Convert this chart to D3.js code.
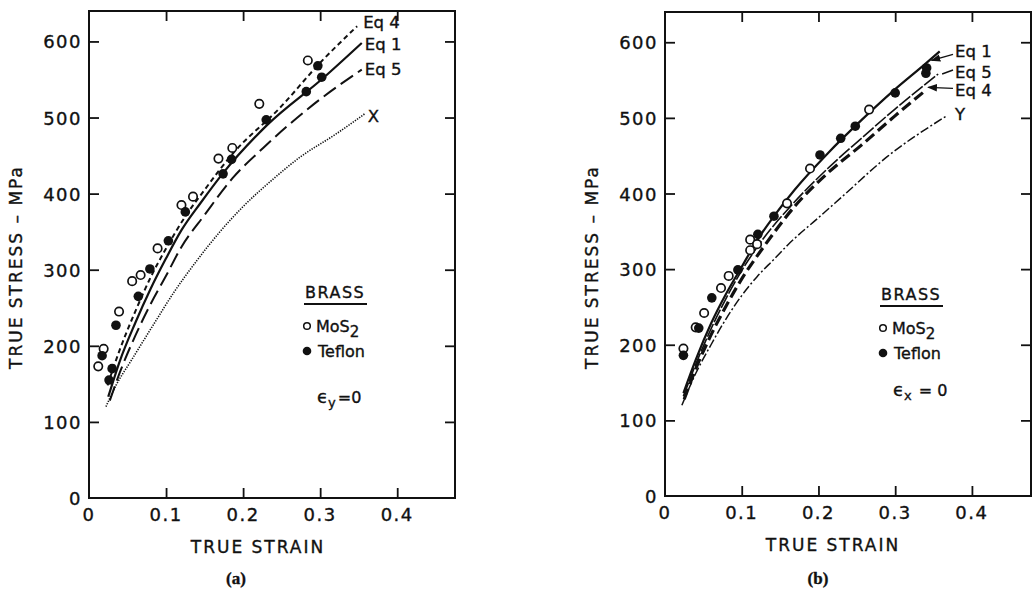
<!DOCTYPE html>
<html>
<head>
<meta charset="utf-8">
<script src="https://cdn.jsdelivr.net/npm/d3@7"></script>
<style>
body { margin: 0; background: #fff; }
svg text { font-family: "DejaVu Sans", sans-serif; fill: #111; stroke: #111; stroke-width: 0.35px; }
</style>
</head>
<body>
<svg id="chart" width="1033" height="591"></svg>
<script>
// ticks
var strainTicks = [0, 0.1, 0.2, 0.3, 0.4];
var stressTicks = [0, 100, 200, 300, 400, 500, 600];

// panel (a)  eps_y = 0
var aEq4 = [[0.024,148],[0.04,195],[0.06,245],[0.08,290],[0.1,328],[0.125,370],[0.15,405],[0.187,453],[0.248,513],[0.3,572],[0.348,620]];
var aEq1 = [[0.025,133],[0.04,180],[0.06,230],[0.08,275],[0.1,315],[0.12,352],[0.145,388],[0.174,427],[0.231,490],[0.304,552],[0.354,598]];
var aEq5 = [[0.027,128],[0.04,165],[0.06,213],[0.08,255],[0.1,292],[0.12,330],[0.15,372],[0.186,420],[0.226,460],[0.291,517],[0.354,563]];
var aX   = [[0.022,120],[0.035,148],[0.055,181],[0.085,230],[0.11,270],[0.14,312],[0.17,350],[0.2,383],[0.24,420],[0.274,448],[0.32,478],[0.358,505]];
var aMoS2 = [[0.012,173],[0.019,196],[0.039,245],[0.056,285],[0.067,293],[0.089,328],[0.120,385],[0.135,396],[0.168,446],[0.186,460],[0.221,518],[0.284,575]];
var aTeflon = [[0.017,187],[0.026,155],[0.030,170],[0.035,227],[0.064,265],[0.079,301],[0.103,338],[0.125,376],[0.174,426],[0.185,445],[0.230,497],[0.282,534],[0.297,568],[0.302,553]];

// panel (b)  eps_x = 0
var bEq1 = [[0.024,136],[0.04,180],[0.06,228],[0.08,268],[0.1,303],[0.12,338],[0.142,370],[0.169,405],[0.212,453],[0.256,497],[0.299,537],[0.340,572],[0.358,588]];
var bEq5 = [[0.024,132],[0.04,174],[0.06,221],[0.08,262],[0.1,298],[0.125,336],[0.169,389],[0.212,433],[0.256,473],[0.299,511],[0.356,558]];
var bEq4 = [[0.025,128],[0.04,168],[0.06,213],[0.08,252],[0.1,287],[0.129,330],[0.169,383],[0.212,427],[0.256,464],[0.299,502],[0.338,535]];
var bY   = [[0.022,120],[0.04,162],[0.06,200],[0.08,235],[0.1,265],[0.12,290],[0.143,314],[0.16,332],[0.2,368],[0.23,395],[0.29,449],[0.366,502]];
var bMoS2 = [[0.024,195],[0.040,223],[0.051,242],[0.073,275],[0.083,291],[0.111,325],[0.111,339],[0.120,333],[0.159,387],[0.189,433],[0.266,511]];
var bTeflon = [[0.024,186],[0.044,222],[0.061,262],[0.095,299],[0.121,346],[0.142,370],[0.202,451],[0.229,473],[0.248,489],[0.300,533],[0.340,559],[0.341,566]];

var svg = d3.select("#chart");

svg.append("defs").append("marker")
    .attr("id", "arr")
    .attr("viewBox", "0 -4 8 8")
    .attr("refX", 7).attr("refY", 0)
    .attr("markerWidth", 7).attr("markerHeight", 7)
    .attr("orient", "auto")
    .append("path").attr("d", "M0,-3L8,0L0,3Z").attr("fill", "#111");

function drawPanel(p) {
    var x = d3.scaleLinear().domain([0, p.xmax]).range([p.left, p.right]);
    var y = d3.scaleLinear().domain([0, 640]).range([p.bottom, p.top]);
    var g = svg.append("g");

    // frame
    g.append("rect")
        .attr("x", p.left).attr("y", p.top)
        .attr("width", p.right - p.left).attr("height", p.bottom - p.top)
        .attr("fill", "none").attr("stroke", "#111").attr("stroke-width", 2);

    // inward ticks on all four sides
    var tk = 10;
    var xt = strainTicks.filter(function (d) { return d > 0; });
    var yt = stressTicks.filter(function (d) { return d > 0; });
    g.append("g").call(d3.axisTop(x).tickValues(xt).tickSize(tk).tickFormat(""))
        .attr("transform", "translate(0," + p.bottom + ")");
    g.append("g").call(d3.axisBottom(x).tickValues(xt).tickSize(tk).tickFormat(""))
        .attr("transform", "translate(0," + p.top + ")");
    g.append("g").call(d3.axisRight(y).tickValues(yt).tickSize(tk).tickFormat(""))
        .attr("transform", "translate(" + p.left + ",0)");
    g.append("g").call(d3.axisLeft(y).tickValues(yt).tickSize(tk).tickFormat(""))
        .attr("transform", "translate(" + p.right + ",0)");
    g.selectAll(".domain").remove();
    g.selectAll(".tick line").attr("stroke", "#111").attr("stroke-width", 1.8);

    // tick labels
    g.selectAll(".xl").data(strainTicks).enter().append("text")
        .attr("x", function (d) { return x(d); })
        .attr("y", p.bottom + 23)
        .attr("text-anchor", "middle")
        .attr("font-size", 18).attr("letter-spacing", 1.5)
        .text(function (d) { return d === 0 ? "0" : d3.format(".1f")(d); });
    g.selectAll(".yl").data(stressTicks).enter().append("text")
        .attr("x", p.left - 7)
        .attr("y", function (d) { return y(d) + 7; })
        .attr("text-anchor", "end")
        .attr("font-size", 18).attr("letter-spacing", 1.5)
        .text(function (d) { return d; });

    // axis titles
    g.append("text")
        .attr("x", p.xTitle).attr("y", p.bottom + 55)
        .attr("text-anchor", "middle")
        .attr("font-size", 17).attr("letter-spacing", 2)
        .text("TRUE STRAIN");
    g.append("text")
        .attr("transform", "translate(" + (p.left - 67) + ",267) rotate(-90)")
        .attr("text-anchor", "middle")
        .attr("font-size", 17).attr("letter-spacing", 2)
        .text("TRUE STRESS \u2013 MPa");

    // curves
    var line = d3.line()
        .x(function (d) { return x(d[0]); })
        .y(function (d) { return y(d[1]); })
        .curve(d3.curveMonotoneX);

    p.series.forEach(function (s) {
        g.append("path")
            .attr("d", line(s.data))
            .attr("fill", "none")
            .attr("stroke", "#111")
            .attr("stroke-width", s.width)
            .attr("stroke-dasharray", s.dash);
        var last = s.data[s.data.length - 1];
        var ex = x(last[0]), ey = y(last[1]);
        var tx = p.labelX ? p.labelX : ex + s.dx;
        var ty = ey + s.dy;
        g.append("text")
            .attr("x", tx).attr("y", ty + 6)
            .attr("font-size", 16.5)
            .text(s.label);
        if (s.arrow) {
            g.append("line")
                .attr("x1", tx - 2).attr("y1", ty + s.arrow[2])
                .attr("x2", ex + s.arrow[0]).attr("y2", ey + s.arrow[1])
                .attr("stroke", "#111").attr("stroke-width", 1.4)
                .attr("marker-end", s.tip ? "url(#arr)" : null);
        }
    });

    // data points
    g.selectAll(".mo").data(p.open).enter().append("circle")
        .attr("cx", function (d) { return x(d[0]); })
        .attr("cy", function (d) { return y(d[1]); })
        .attr("r", 4.2)
        .attr("fill", "#fff").attr("stroke", "#111").attr("stroke-width", 1.7);
    g.selectAll(".tf").data(p.filled).enter().append("circle")
        .attr("cx", function (d) { return x(d[0]); })
        .attr("cy", function (d) { return y(d[1]); })
        .attr("r", 4.8)
        .attr("fill", "#111");

    // legend
    var bx = p.left + 216, by = p.legendY;
    g.append("text").attr("x", bx).attr("y", by)
        .attr("font-size", 16).attr("letter-spacing", 1.5).text("BRASS");
    g.append("line").attr("x1", bx - 1).attr("x2", bx + 62)
        .attr("y1", by + 6).attr("y2", by + 6)
        .attr("stroke", "#111").attr("stroke-width", 2);
    g.append("circle").attr("cx", bx + 2).attr("cy", by + 28).attr("r", 3.3)
        .attr("fill", "#fff").attr("stroke", "#111").attr("stroke-width", 1.5);
    var t1 = g.append("text").attr("x", bx + 11).attr("y", by + 34).attr("font-size", 16);
    t1.append("tspan").text("MoS");
    t1.append("tspan").attr("dy", 5).attr("font-size", 15).text("2");
    g.append("circle").attr("cx", bx + 2).attr("cy", by + 53).attr("r", 4.3)
        .attr("fill", "#111");
    g.append("text").attr("x", bx + 13).attr("y", by + 59).attr("font-size", 16).text("Teflon");
    var t2 = g.append("text").attr("x", bx + 12).attr("y", by + p.epsDy).attr("font-size", 18);
    t2.append("tspan").text("\u03f5");
    t2.append("tspan").attr("dy", 4).attr("font-size", 13).text(p.sub);
    t2.append("tspan").attr("dy", -4).attr("dx", 2).attr("font-size", 16).text(p.eqText);

    // panel tag
    svg.append("text")
        .attr("x", p.tagX).attr("y", 584)
        .attr("text-anchor", "middle")
        .style("font-family", "'Liberation Serif', serif")
        .attr("font-size", 17).attr("font-weight", "bold")
        .attr("stroke-width", 0)
        .text(p.tag);
}

drawPanel({
    left: 89, right: 455, top: 11, bottom: 498, xmax: 0.475,
    xTitle: 258, legendY: 298, epsDy: 105, sub: "y", eqText: "=0", tagX: 236, tag: "(a)",
    series: [
        { data: aEq4, dash: "5,3.5", width: 2, label: "Eq 4", dx: 6, dy: -4 },
        { data: aEq1, dash: null, width: 2.2, label: "Eq 1", dx: 3, dy: 1 },
        { data: aEq5, dash: "15,6", width: 2, label: "Eq 5", dx: 3, dy: -1 },
        { data: aX, dash: "1.3,1.3", width: 1.6, label: "X", dx: 3, dy: 2 }
    ],
    open: aMoS2, filled: aTeflon
});

drawPanel({
    left: 665, right: 1031, top: 12, bottom: 496, xmax: 0.477,
    xTitle: 833, legendY: 300, epsDy: 96, sub: "x", eqText: " = 0", tagX: 818, tag: "(b)",
    labelX: 955,
    series: [
        { data: bEq1, dash: null, width: 2.2, label: "Eq 1", dx: 15, dy: 0, arrow: [-8, 9, 3], tip: true },
        { data: bEq5, dash: "14,2", width: 1.6, label: "Eq 5", dx: 15, dy: -2, arrow: [4, 0, -2], tip: false },
        { data: bEq4, dash: "11,5", width: 3.2, label: "Eq 4", dx: 15, dy: -1, arrow: [4, -4, -2], tip: true },
        { data: bY, dash: "9,2.5,2,2.5", width: 1.5, label: "Y", dx: 8, dy: -2 }
    ],
    open: bMoS2, filled: bTeflon
});
</script>
</body>
</html>
